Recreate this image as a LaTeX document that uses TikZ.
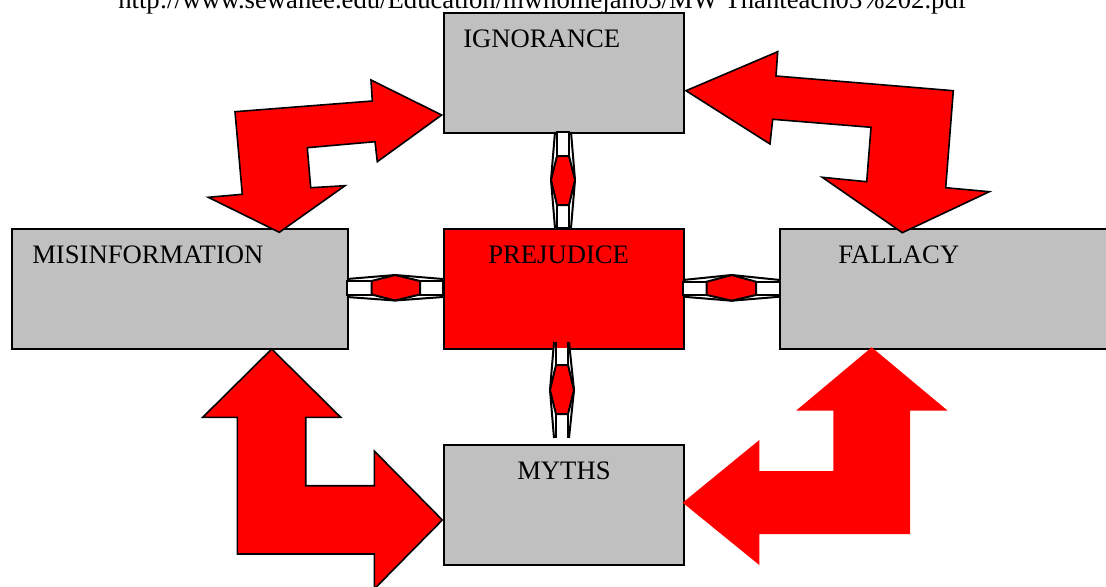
\documentclass[tikz,border=0pt]{standalone}
\usepackage{fontspec}
\setmainfont{Liberation Serif}
\definecolor{boxgray}{RGB}{192,192,192}
\begin{document}
\begin{tikzpicture}[x=0.75pt,y=-0.75pt,
  box/.style={draw=black, line width=1.4pt, fill=#1, inner sep=0, anchor=north west, minimum height=90pt},
  lbl/.style={anchor=base west, inner sep=0, font=\fontsize{20}{24}\selectfont},
  bigarrow/.style={fill=red, draw=black, line width=1.2pt, line join=miter},
  flatarrow/.style={fill=red},
  linkline/.style={draw=black, line width=1.5pt},
  linkhex/.style={fill=red, draw=black, line width=1.5pt}]
\useasboundingbox (0,0) rectangle (1106,586);
\clip (0,0) rectangle (1106,586);

% source line
\node[lbl] (src) at (118,8.5) {http://www.sewanee.edu/Education/mwhomejan03/MW Thanteach03\%202.pdf};

% boxes
\node[box=boxgray, minimum width=180pt] (ign) at (443,12) {};
\node[box=boxgray, minimum width=252pt] (mis) at (11,228) {};
\node[box=red, minimum width=180pt] (pre) at (443,228) {};
\node[box=boxgray, minimum width=260pt] (fal) at (779,228) {};
\node[box=boxgray, minimum width=180pt] (myt) at (443,444) {};

% labels
\node[lbl] (tign) at (463,47.5) {IGNORANCE};
\node[lbl] (tmis) at (32,263.5) {MISINFORMATION};
\node[lbl] (tpre) at (488,263.5) {PREJUDICE};
\node[lbl] (tfal) at (838,263.5) {FALLACY};
\node[lbl] (tmyt) at (517,479.5) {MYTHS};

% link: ignorance - prejudice
\fill[white] (555,132) -- (571,132) -- (575,180) -- (571,228) -- (555,228) -- (551,180) -- cycle;
\draw[linkline] (555,132) -- (551,180) -- (555,228);
\draw[linkline] (571,132) -- (575,180) -- (571,228);
\draw[linkline] (557,132) rectangle (569,156);
\draw[linkline] (557,205) rectangle (569,228);
\draw[linkhex] (557,156) -- (569,156) -- (575,180) -- (569,205) -- (557,205) -- (551,180) -- cycle;

% link: prejudice - myths
\fill[white] (554,348) -- (569,348) -- (574,390) -- (569,438) -- (554,438) -- (550,390) -- cycle;
\draw[linkline] (554,342) -- (550,390) -- (554,438);
\draw[linkline] (569,342) -- (574,390) -- (569,438);
\draw[linkline] (556,342) -- (556,365) (568,342) -- (568,365);
\draw[linkline] (556,414) -- (556,438) (568,414) -- (568,438);
\draw[linkhex] (556,365) -- (568,365) -- (574,390) -- (568,414) -- (556,414) -- (550,390) -- cycle;

% link: misinformation - prejudice
\fill[white] (347,279) -- (395,275) -- (443,279) -- (443,297) -- (395,300.5) -- (347,297) -- cycle;
\draw[linkline] (347,279) -- (395,275) -- (443,279);
\draw[linkline] (347,297) -- (395,300.5) -- (443,297);
\draw[linkline] (347,281) rectangle (371.5,294.5);
\draw[linkline] (420,281) rectangle (443,294.5);
\draw[linkhex] (371.5,281) -- (395,275) -- (420,281) -- (420,294.5) -- (395,300.5) -- (371.5,294.5) -- cycle;

% link: prejudice - fallacy
\fill[white] (683,280) -- (731.7,275) -- (780,280) -- (780,296.7) -- (731.7,300.7) -- (683,296.7) -- cycle;
\draw[linkline] (683,280) -- (731.7,275) -- (780,280);
\draw[linkline] (683,296.7) -- (731.7,300.7) -- (780,296.7);
\draw[linkline] (683,281.7) rectangle (706.7,295);
\draw[linkline] (756,281.7) rectangle (780,295);
\draw[linkhex] (706.7,281.7) -- (731.7,275) -- (756,281.7) -- (756,295) -- (731.7,300.7) -- (706.7,295) -- cycle;

% big arrow: misinformation <-> ignorance
\draw[bigarrow] (441.7,115) -- (371,80) -- (372.3,101) -- (235,111.7) -- (242.3,194.3)
  -- (208.3,197.3) -- (279.3,232.3) -- (345,185.7) -- (310.7,187.7) -- (307.3,147.7)
  -- (375,141.7) -- (377.3,161.7) -- cycle;

% big arrow: ignorance <-> fallacy
\draw[bigarrow] (686,90.7) -- (777.7,51.7) -- (776,76) -- (953.3,90.7) -- (945.7,187.7)
  -- (989.3,191.7) -- (902.3,232.7) -- (822.3,177.3) -- (866.7,181.7) -- (871,127.3)
  -- (772.7,119.3) -- (770,144) -- cycle;

% big arrow: misinformation <-> myths
\draw[bigarrow] (271.7,349) -- (340.7,417.3) -- (305.7,417.3) -- (305.7,485.7) -- (374.3,485.7)
  -- (374.3,451) -- (442.3,520) -- (374.3,589) -- (374.3,554) -- (237.3,554)
  -- (237.3,417.3) -- (202.7,417.3) -- cycle;

% big arrow: myths <-> fallacy
\fill[flatarrow] (871.7,347.3) -- (947.7,410.7) -- (910,410.7) -- (910,534) -- (759.3,534)
  -- (759.3,565) -- (682.7,502.7) -- (759.3,440) -- (759.3,471) -- (833.3,471)
  -- (833.3,410.7) -- (796,410.7) -- cycle;
\end{tikzpicture}
\end{document}
